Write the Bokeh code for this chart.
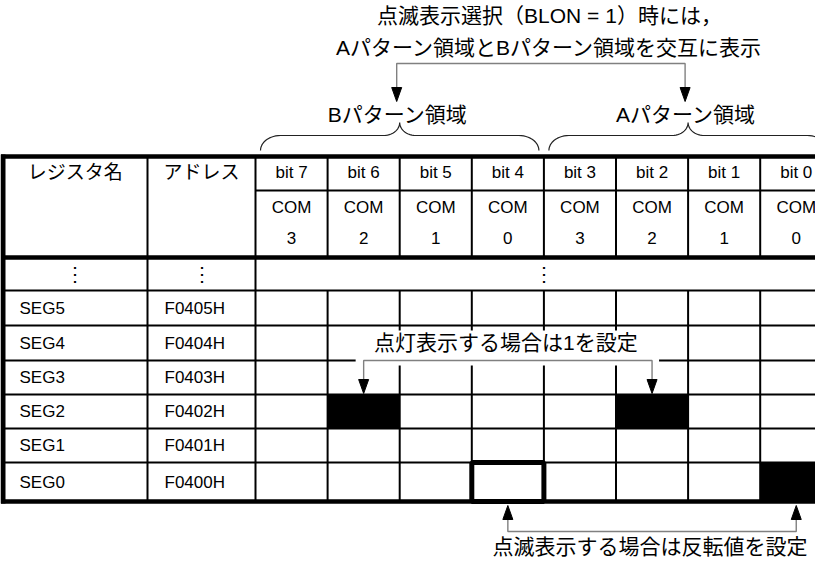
import numpy as np
from bokeh.plotting import figure
from bokeh.models import Range1d
from bokeh.core.properties import value
from bokeh.embed import file_html
from bokeh.resources import INLINE

# ---------------- data ----------------
title_lines = ["点滅表示選択（BLON = 1）時には，", "Aパターン領域とBパターン領域を交互に表示"]
pattern_labels = ["Bパターン領域", "Aパターン領域"]
pattern_bits = [["bit 7", "bit 6", "bit 5", "bit 4"], ["bit 3", "bit 2", "bit 1", "bit 0"]]
col_headers = ["レジスタ名", "アドレス"]
bit_labels = ["bit 7", "bit 6", "bit 5", "bit 4", "bit 3", "bit 2", "bit 1", "bit 0"]
com_numbers = ["3", "2", "1", "0", "3", "2", "1", "0"]
registers = ["SEG5", "SEG4", "SEG3", "SEG2", "SEG1", "SEG0"]
addresses = ["F0405H", "F0404H", "F0403H", "F0402H", "F0401H", "F0400H"]
lit_cells = [("SEG2", "bit 6"), ("SEG2", "bit 2"), ("SEG0", "bit 0")]
on_targets = [("SEG2", "bit 6"), ("SEG2", "bit 2")]
blink_targets = [("SEG0", "bit 4"), ("SEG0", "bit 0")]
note_on = "点灯表示する場合は1を設定"
note_blink = "点滅表示する場合は反転値を設定"
ellipsis = "⋮"

# ---------------- layout ----------------
FONT = "Liberation Sans, Noto Sans CJK JP"
GRAY = "#808080"
X_LEFT, X_NAME, X_ADDR = 10.5, 155, 263
BIT_W = 72.1
bit_edges = [X_ADDR + i * BIT_W for i in range(len(bit_labels) + 1)]
Y_TOP, Y_BIT, Y_HEAD, Y_ELL = 164, 198, 265, 298
row_edges = [298, 333, 368, 402, 436, 470, 509]
Y_BOT = row_edges[-1]
X_RIGHT = bit_edges[-1]

col_x = {b: (bit_edges[i] + bit_edges[i + 1]) / 2 for i, b in enumerate(bit_labels)}
col_l = {b: bit_edges[i] for i, b in enumerate(bit_labels)}
col_r = {b: bit_edges[i + 1] for i, b in enumerate(bit_labels)}
row_t = {r: row_edges[i] for i, r in enumerate(registers)}
row_b = {r: row_edges[i + 1] for i, r in enumerate(registers)}
row_c = {r: (row_edges[i] + row_edges[i + 1]) / 2 for i, r in enumerate(registers)}

p = figure(width=815, height=559, x_range=Range1d(8, 823), y_range=Range1d(567, 8),
           output_backend="svg", toolbar_location=None, min_border=0,
           x_axis_location=None, y_axis_location=None)
p.grid.visible = False
p.outline_line_color = None
p.background_fill_color = "white"
p.border_fill_color = "white"


def txt(xs, ys, texts, size="17px", align="center", color="black"):
    p.text(x=xs, y=ys, text=texts, text_align=align, text_baseline="middle",
           text_font=value(FONT), text_font_size=size, text_color=color)


def head(xt, yt, direction, w=10, l=14):
    # direction +1 : pointing down (toward larger y), -1 : pointing up
    return [xt - w / 2, xt, xt + w / 2], [yt - direction * l, yt, yt - direction * l]


# ---------------- black cells ----------------
p.quad(left=[col_l[b] for r, b in lit_cells], right=[col_r[b] for r, b in lit_cells],
       top=[row_t[r] for r, b in lit_cells], bottom=[row_b[r] for r, b in lit_cells],
       fill_color="black", line_color=None)

# ---------------- thin grid lines ----------------
hx0, hy0, hx1, hy1 = [], [], [], []
hx0.append(X_ADDR); hx1.append(X_RIGHT); hy0.append(Y_BIT); hy1.append(Y_BIT)
for y in row_edges[:-1]:
    hx0.append(X_LEFT); hx1.append(X_RIGHT); hy0.append(y); hy1.append(y)
for x in [X_NAME, X_ADDR]:
    hx0.append(x); hx1.append(x); hy0.append(Y_TOP); hy1.append(Y_BOT)
for x in bit_edges[1:-1]:
    hx0.append(x); hx1.append(x); hy0.append(Y_TOP); hy1.append(Y_HEAD)
    hx0.append(x); hx1.append(x); hy0.append(Y_ELL); hy1.append(Y_BOT)
p.segment(x0=hx0, y0=hy0, x1=hx1, y1=hy1, line_color="black", line_width=2)

# ---------------- thick borders ----------------
p.segment(x0=[X_LEFT - 2, X_LEFT - 2, X_LEFT - 2], x1=[X_RIGHT, X_RIGHT, X_RIGHT],
          y0=[Y_TOP, Y_HEAD, Y_BOT], y1=[Y_TOP, Y_HEAD, Y_BOT],
          line_color="black", line_width=4.5)
p.segment(x0=[X_LEFT], x1=[X_LEFT], y0=[Y_TOP - 2], y1=[Y_BOT + 2],
          line_color="black", line_width=5)

# ---------------- header texts ----------------
head_cy = (Y_TOP + Y_BIT) / 2 - 1
txt([(X_LEFT + X_NAME) / 2, (X_NAME + X_ADDR) / 2], [head_cy, head_cy], col_headers, size="19px")
txt([col_x[b] for b in bit_labels], [head_cy] * 8, bit_labels, size="17px")
txt([col_x[b] for b in bit_labels], [Y_BIT + 17] * 8, ["COM"] * 8, size="17px")
txt([col_x[b] for b in bit_labels], [Y_BIT + 47] * 8, com_numbers, size="17px")

# ellipsis row
ell_y = (Y_HEAD + Y_ELL) / 2
txt([(X_LEFT + X_NAME) / 2, (X_NAME + X_ADDR) / 2, (X_ADDR + X_RIGHT) / 2], [ell_y] * 3,
    [ellipsis] * 3, size="20px")

# register rows
txt([27] * len(registers), [row_c[r] for r in registers], registers, size="17px", align="left")
txt([172] * len(addresses), [row_c[r] for r in registers], addresses, size="17px", align="left")

# ---------------- middle note (on) ----------------
on_x = [col_x[b] for r, b in on_targets]
on_tip = row_t[on_targets[0][0]] - 1
p.quad(left=[on_x[0] - 8], right=[on_x[1] + 7], top=[338], bottom=[373],
       fill_color="white", line_color=None)
y_br = row_t["SEG3"]
p.line(x=[on_x[0], on_x[0], on_x[1], on_x[1]], y=[on_tip - 14, y_br, y_br, on_tip - 14],
       line_color=GRAY, line_width=1.4)
hs = [head(x, on_tip, +1) for x in on_x]
p.patches(xs=[h[0] for h in hs], ys=[h[1] for h in hs], fill_color="black", line_color="black",
          line_width=1)
txt([(on_x[0] + on_x[1]) / 2 - 2], [350], [note_on], size="21px")

# ---------------- blink cell box ----------------
br, bb = blink_targets[0]
p.quad(left=[col_l[bb]], right=[col_r[bb]], top=[row_t[br]], bottom=[row_b[br]],
       fill_color=None, line_color="black", line_width=5)

# ---------------- bottom note (blink) ----------------
bl_x = [col_x[b] for r, b in blink_targets]
bl_tip = Y_BOT + 4
y_bb = 539
p.line(x=[bl_x[0], bl_x[0], bl_x[1], bl_x[1]], y=[bl_tip + 14, y_bb, y_bb, bl_tip + 14],
       line_color=GRAY, line_width=1.4)
hs = [head(x, bl_tip, -1) for x in bl_x]
p.patches(xs=[h[0] for h in hs], ys=[h[1] for h in hs], fill_color="black", line_color="black",
          line_width=1)
txt([(bl_x[0] + bl_x[1]) / 2 - 2], [554], [note_blink], size="21px")

# ---------------- braces ----------------
def brace(xl, xr, y_end=158, y_h=143, y_c=130, r_end=20, r_c=16, n=14):
    xm = (xl + xr) / 2
    t = np.linspace(0, np.pi / 2, n)
    x1 = xl + r_end * (1 - np.cos(t)); y1 = y_end - (y_end - y_h) * np.sin(t)
    x2 = xm - r_c + r_c * np.sin(t); y2 = y_h - (y_h - y_c) * (1 - np.cos(t))
    xl_half = np.concatenate([x1, x2]); yl_half = np.concatenate([y1, y2])
    xs = np.concatenate([xl_half, (2 * xm - xl_half)[::-1]])
    ys = np.concatenate([yl_half, yl_half[::-1]])
    return xs, ys

label_x = []
for grp in pattern_bits:
    xl = col_l[grp[0]] + 5
    xr = col_r[grp[-1]] - 5
    bx, by = brace(xl, xr)
    p.line(x=bx, y=by, line_color="#222222", line_width=1.2)
    label_x.append((col_l[grp[0]] + col_r[grp[-1]]) / 2 - 2)
txt(label_x, [122, 122], pattern_labels, size="21px")

# ---------------- top note ----------------
top_tip = 109
y_tb = 71
arr_x = [x - 1 for x in label_x]
p.line(x=[arr_x[0], arr_x[0], arr_x[1], arr_x[1]], y=[top_tip - 14, y_tb, y_tb, top_tip - 14],
       line_color=GRAY, line_width=1.4)
hs = [head(x, top_tip, +1) for x in arr_x]
p.patches(xs=[h[0] for h in hs], ys=[h[1] for h in hs], fill_color="black", line_color="black",
          line_width=1)
txt([557, 557], [23, 55], title_lines, size="21px")

open("out.html", "w").write(file_html(p, INLINE))
